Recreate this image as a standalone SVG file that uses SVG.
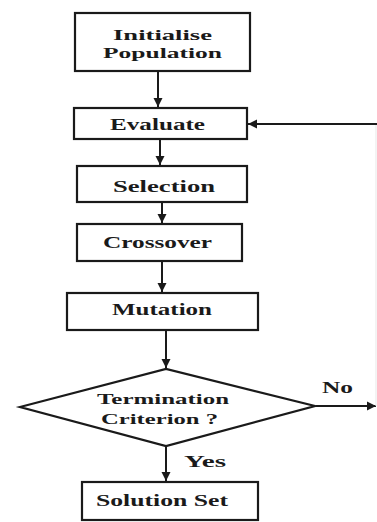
<svg xmlns="http://www.w3.org/2000/svg" width="377" height="522" viewBox="0 0 377 522">
<style>
.box{fill:#fff;stroke:#1a1a1a;stroke-width:2.2}
.t{font-family:"Liberation Serif","Times New Roman",serif;font-weight:bold;font-size:17px;fill:#1a1a1a}
.s{font-size:15px}
.c{fill:none;stroke:#1a1a1a;stroke-width:2}
.f{fill:none;stroke:#ececec;stroke-width:1.2}
</style>
<defs>
<marker id="ah" markerWidth="10" markerHeight="10" refX="9" refY="5" orient="auto" markerUnits="userSpaceOnUse">
<path d="M0,0.5 L9,5 L0,9.5 Z" fill="#1a1a1a"/>
</marker>
</defs>
<rect width="377" height="522" fill="#fff"/>
<g id="connectors">
<line class="c" x1="158" y1="72" x2="158" y2="107" marker-end="url(#ah)"/>
<line class="c" x1="160" y1="140" x2="160" y2="165" marker-end="url(#ah)"/>
<line class="c" x1="162" y1="203" x2="162" y2="223" marker-end="url(#ah)"/>
<line class="c" x1="162" y1="262" x2="162" y2="292" marker-end="url(#ah)"/>
<line class="c" x1="166" y1="331" x2="166" y2="368" marker-end="url(#ah)"/>
<line class="c" x1="166" y1="447" x2="166" y2="481" marker-end="url(#ah)"/>
<line class="c" x1="316" y1="406" x2="376" y2="406" marker-end="url(#ah)"/>
<line class="f" x1="376" y1="406" x2="376" y2="124"/>
<line class="c" x1="377" y1="124" x2="248" y2="124" marker-end="url(#ah)"/>
<text class="t" x="322" y="393" textLength="31" lengthAdjust="spacingAndGlyphs">No</text>
<text class="t" x="184" y="467" textLength="42" lengthAdjust="spacingAndGlyphs">Yes</text>
</g>
<g id="init">
<rect class="box" x="75" y="13" width="175" height="58"/>
<text class="t s" x="113" y="40" textLength="99" lengthAdjust="spacingAndGlyphs">Initialise</text>
<text class="t s" x="103" y="58" textLength="119" lengthAdjust="spacingAndGlyphs">Population</text>
</g>
<g id="evaluate">
<rect class="box" x="74" y="108" width="173" height="31"/>
<text class="t" x="110" y="130" textLength="95" lengthAdjust="spacingAndGlyphs">Evaluate</text>
</g>
<g id="selection">
<rect class="box" x="77" y="166" width="170" height="36"/>
<text class="t" x="113" y="192" textLength="102" lengthAdjust="spacingAndGlyphs">Selection</text>
</g>
<g id="crossover">
<rect class="box" x="77" y="224" width="165" height="37"/>
<text class="t" x="103" y="248" textLength="109" lengthAdjust="spacingAndGlyphs">Crossover</text>
</g>
<g id="mutation">
<rect class="box" x="67" y="293" width="191" height="37"/>
<text class="t" x="112" y="315" textLength="100" lengthAdjust="spacingAndGlyphs">Mutation</text>
</g>
<g id="termination">
<polygon class="box" points="20,407 166,369 315,406 166,446"/>
<text class="t s" x="97" y="404" textLength="132" lengthAdjust="spacingAndGlyphs">Termination</text>
<text class="t s" x="101" y="424" textLength="117" lengthAdjust="spacingAndGlyphs">Criterion ?</text>
</g>
<g id="solution">
<rect class="box" x="82" y="482" width="176" height="38"/>
<text class="t" x="96" y="506" textLength="132" lengthAdjust="spacingAndGlyphs">Solution Set</text>
</g>
</svg>
